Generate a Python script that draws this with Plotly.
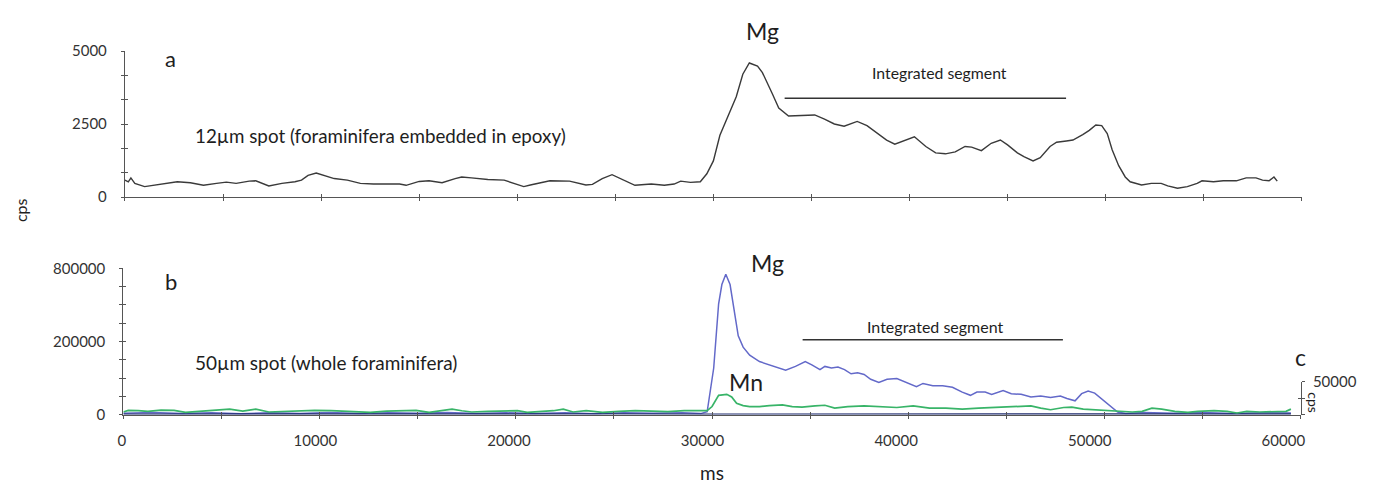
import numpy as np
import plotly.graph_objects as go

# ---------------- data ----------------
# Panel a: Mg trace, 12 µm spot (foraminifera embedded in epoxy)
t_a = [0, 170, 302, 502, 1002, 1502, 2002, 2668, 3335, 4002, 4668, 5168, 5668, 6335, 6668,
       7335, 8002, 8668, 9002, 9335, 9752, 10168, 10668, 11335, 12002, 12668, 13335, 14002,
       14335, 15002, 15502, 16168, 16835, 17168, 17668, 18502, 19335, 19835, 20335, 20668,
       21335, 21668, 22668, 23502, 23835, 24335, 24835, 25335, 26002, 26835, 27502, 28002,
       28335, 28835, 29335, 29668, 30002, 30335, 30668, 31168, 31502, 31835, 32252, 32502,
       33002, 33335, 33835, 34502, 35168, 35668, 36168, 36668, 37335, 37835, 38502, 38835,
       39252, 39835, 40252, 40835, 41335, 41835, 42335, 42835, 43168, 43668, 44168, 44635,
       45002, 45502, 45835, 46302, 46668, 47168, 47502, 48002, 48335, 48835, 49168, 49502,
       49802, 50085, 50335, 50668, 51002, 51252, 51835, 52335, 52835, 53168, 53668, 54168,
       54668, 54918, 55502, 56002, 56668, 57168, 57668, 58002, 58335, 58585, 58752]
mg_a = [582, 527, 659, 472, 362, 417, 450, 527, 494, 406, 472, 516, 472, 549, 560,
        384, 472, 527, 582, 747, 824, 747, 637, 582, 472, 450, 450, 450,
        406, 538, 560, 494, 637, 692, 659, 604, 582, 472, 362, 417,
        527, 560, 549, 417, 439, 637, 769, 615, 406, 450, 406, 450,
        549, 505, 527, 802, 1242, 2121, 2671, 3440, 4210, 4594, 4485, 4265,
        3550, 3055, 2781, 2803, 2814, 2671, 2506, 2429, 2594, 2451, 2121, 1956,
        1813, 1956, 2066, 1736, 1517, 1484, 1550, 1736, 1714, 1593, 1846, 1956,
        1791, 1517, 1385, 1242, 1352, 1736, 1879, 1923, 1956, 2143, 2286, 2473,
        2451, 2176, 1626, 1077, 692, 527, 417, 472, 472, 384, 307, 362,
        472, 560, 527, 560, 560, 659, 659, 582, 560, 692, 549]

# Panel b: Mg trace, 50 µm spot (whole foraminifera)
t_mg_b = [0, 1500, 3000, 4500, 6000, 7500, 9000, 10500, 12000, 13500, 15000, 16500, 18000,
          19500, 21000, 22500, 24000, 25500, 27000, 28500, 29417, 29750, 30084, 30334, 30500,
          30700, 30917, 31084, 31334, 31584, 31917, 32417, 32917, 33250, 33750, 34250, 34750,
          35084, 35500, 35750, 36084, 36417, 36750, 37084, 37417, 37750, 38084, 38500, 38917,
          39417, 39917, 40417, 40750, 41250, 41750, 42250, 42750, 43167, 43500, 43917, 44250,
          44834, 45250, 45750, 46250, 46750, 47250, 47750, 48084, 48500, 48834, 49167, 49500,
          49834, 50250, 50667, 51084, 52000, 53500, 55000, 56500, 58000, 59500]
mg_b = [60, 150, 40, 120, 30, 140, 50, 160, 40, 130, 60, 150, 50,
        120, 40, 140, 30, 130, 60, 110, 35, 300, 81200, 459800, 633600,
        737600, 633600, 433600, 231900, 170300, 132200, 105200, 92800, 86900, 73500, 86900, 105200,
        92800, 75700, 86900, 81200, 84600, 75700, 62300, 65300, 60400, 46700, 38600, 46700,
        48500, 38600, 29200, 36300, 31300, 31300, 27900, 18900, 13900, 18900, 18900, 15300,
        21700, 16400, 15300, 11700, 13000, 10900, 13000, 9700, 7100, 16400, 20600, 17300,
        9700, 3500, 250, 40, 150, 60, 170, 50, 140, 80]

# Panel b/c: Mn trace (right-hand cps scale)
t_mn_b = [0, 248, 748, 1248, 1915, 2582, 3165, 3915, 4582, 5415, 6082, 6748, 7415, 8082,
          8915, 9748, 10582, 11248, 11915, 12582, 13415, 14248, 14915, 15582, 16082, 16748,
          17248, 17748, 18582, 19415, 20082, 20582, 21248, 21917, 22417, 22917, 23584, 24417,
          25250, 26084, 26917, 27750, 28584, 29750, 30000, 30334, 30750, 31000, 31250, 31584,
          31917, 32417, 32917, 33584, 34084, 34584, 35250, 35750, 36250, 36917, 37750, 38584,
          39417, 40250, 41084, 41917, 42750, 43584, 44750, 45584, 46250, 46750, 47250, 47917,
          48334, 48917, 49584, 50250, 50750, 51417, 51917, 52417, 52917, 53584, 54250, 54750,
          55584, 56250, 56750, 57250, 57917, 58584, 59250, 59500]
mn_b = [3920, 6370, 5880, 4900, 6860, 6370, 3430, 4900, 6860, 8330, 5390, 8330, 3920, 4900,
        5390, 6370, 5880, 4900, 4900, 3430, 5390, 5390, 6370, 3430, 5880, 8330,
        5880, 3920, 4900, 5880, 5880, 3430, 4900, 5880, 8330, 3920, 5880, 3430,
        4900, 5880, 5390, 4410, 5880, 5880, 12250, 29400, 30880, 26960, 17160, 13720,
        12250, 12250, 13720, 14700, 12250, 11270, 13240, 14210, 9800, 12250, 13240, 12250,
        10780, 13240, 9800, 9800, 8330, 9800, 11270, 12250, 13240, 9800, 7350, 10780,
        11270, 8330, 7350, 6370, 4900, 3920, 4900, 9800, 8330, 4900, 3430, 4900,
        5880, 4900, 2450, 4900, 3920, 4900, 4900, 8330]

# Panel b: low background channel along the baseline
t_bg_b = [0, 5000, 10000, 15000, 20000, 25000, 29500, 52000, 55000, 58000, 59500]
bg_b = [5, 10, 0, 8, 3, 10, 5, 3, 10, 2, 8]

# Axis labels
ticks_a = [0, 2500, 5000]
ticks_b = [0, 200000, 800000]
ticks_mn = [50000]
x_labels = [0, 10000, 20000, 30000, 40000, 50000, 60000]

# Integrated segments (start ms, end ms, level in cps) and their caption anchors (ms, cps)
seg_a = (33635, 47985, 3384)
seg_b = (34615, 47880, 209800)
seg_a_label = (41535, 4265)
seg_b_label = (41365, 292300)

# ---------------- layout helpers ----------------
W, H = 1376, 490
FONT = "Lato"
INK = "#1e1e1e"
AXC = "#555555"


def fx(px):
    return px / W


def fy(py):
    return 1 - py / H


def sq(v):
    # panel b uses a square-root cps scale
    return np.sqrt(np.asarray(v, dtype=float))


fig = go.Figure()

fig.add_trace(go.Scatter(x=t_a, y=mg_a, mode="lines", xaxis="x", yaxis="y",
                         line=dict(color="#3a3a3a", width=1.4), name="Mg (12 µm)"))
fig.add_trace(go.Scatter(x=t_mn_b, y=mn_b, mode="lines", xaxis="x2", yaxis="y3",
                         line=dict(color="#38b468", width=1.7), name="Mn"))
fig.add_trace(go.Scatter(x=t_mg_b, y=sq(mg_b), mode="lines", xaxis="x2", yaxis="y2",
                         line=dict(color="#6369c9", width=1.5), name="Mg (50 µm)"))
fig.add_trace(go.Scatter(x=t_bg_b, y=sq(bg_b), mode="lines", xaxis="x2", yaxis="y2",
                         line=dict(color="#1d2a6e", width=1.6), name="background"))
# empty carriers for the labelled time axis and the inner tick overlays
for xa, ya in [("x3", "y2"), ("x4", "y4"), ("x5", "y5"), ("x2", "y6")]:
    fig.add_trace(go.Scatter(x=[], y=[], xaxis=xa, yaxis=ya, showlegend=False, hoverinfo="skip"))

tick_font = dict(family=FONT, size=15, color="#333333")

# y tick positions: panel a every 5000/6, panel b eight equal steps in sqrt space
ya_vals = [k * 5000 / 6 for k in range(7)]
ya_text = [str(int(round(v))) if any(abs(v - t) < 1 for t in ticks_a) else "" for v in ya_vals]
yb_max = float(sq(ticks_b[-1]))
yb_vals = [k * yb_max / 8 for k in range(9)]
yb_text = [""] * 9
for t in ticks_b:
    yb_text[int(round(float(sq(t)) / yb_max * 8))] = str(t)
x_ticks = list(range(0, 60001, 5000))
mn_ticks = [0, 25000] + ticks_mn

common_axis = dict(showgrid=False, zeroline=False, showline=True, linecolor=AXC, linewidth=1.3,
                   ticks="outside", ticklen=3, tickcolor=AXC, tickwidth=1.2, tickfont=tick_font)
inner_ticks = dict(showgrid=False, zeroline=False, showline=False, ticks="inside", ticklen=3,
                   tickcolor=AXC, tickwidth=1.2, showticklabels=False, tickmode="array")

dom_xa = [fx(123.3), fx(1322.7)]
dom_ya = [fy(194.3), fy(42.7)]
dom_xb = [fx(121.7), fx(1321.7)]
dom_yb = [fy(420), fy(268.3)]

fig.update_layout(
    width=W, height=H, autosize=False,
    margin=dict(l=0, r=0, t=0, b=0),
    paper_bgcolor="white", plot_bgcolor="rgba(0,0,0,0)",
    showlegend=False,
    font=dict(family=FONT, color=INK),
    xaxis=dict(common_axis, domain=dom_xa, range=[0, 60000], anchor="y",
               tickmode="array", tickvals=x_ticks, showticklabels=False),
    yaxis=dict(common_axis, domain=dom_ya, range=[0, 5000], anchor="x",
               tickmode="array", tickvals=ya_vals, ticktext=ya_text, ticklabelstandoff=11),
    xaxis2=dict(common_axis, domain=dom_xb, range=[0, 60000], anchor="y2",
                tickmode="array", tickvals=x_ticks, showticklabels=False),
    yaxis2=dict(common_axis, domain=dom_yb, range=[0, yb_max], anchor="x2",
                tickmode="array", tickvals=yb_vals, ticktext=yb_text, ticklabelstandoff=11),
    yaxis3=dict(common_axis, domain=[fy(420), fy(386)], range=[0, 50000], anchor="x2",
                side="right", tickmode="array", tickvals=mn_ticks,
                ticktext=["", ""] + [str(v) for v in ticks_mn], ticklabelstandoff=5),
    xaxis3=dict(domain=[fx(120), fx(1304)], range=[0, 60000], anchor="y2", showline=False,
                showgrid=False, zeroline=False, ticks="", tickmode="array", tickvals=x_labels,
                ticktext=[str(v) for v in x_labels], tickfont=tick_font, ticklabelstandoff=15),
    # inner halves of the crossing tick marks
    xaxis4=dict(inner_ticks, domain=dom_xa, range=[0, 60000], anchor="y4", tickvals=x_ticks),
    yaxis4=dict(inner_ticks, domain=dom_ya, range=[0, 5000], anchor="x4", tickvals=ya_vals),
    xaxis5=dict(inner_ticks, domain=dom_xb, range=[0, 60000], anchor="y5", tickvals=x_ticks),
    yaxis5=dict(inner_ticks, domain=dom_yb, range=[0, yb_max], anchor="x5", tickvals=yb_vals),
    yaxis6=dict(inner_ticks, domain=[fy(420), fy(386)], range=[0, 50000], anchor="x2",
                side="right", tickvals=mn_ticks),
)

# integrated segment bars
fig.add_shape(type="line", xref="x", yref="y", x0=seg_a[0], x1=seg_a[1], y0=seg_a[2], y1=seg_a[2],
              line=dict(color="#333333", width=1.5))
fig.add_shape(type="line", xref="x2", yref="y2", x0=seg_b[0], x1=seg_b[1],
              y0=float(sq(seg_b[2])), y1=float(sq(seg_b[2])), line=dict(color="#333333", width=1.5))


def note(text, x, y, size, xref="paper", yref="paper", xanchor="center", angle=0):
    fig.add_annotation(text=text, x=x, y=y, xref=xref, yref=yref, showarrow=False,
                       xanchor=xanchor, yanchor="middle", textangle=angle,
                       font=dict(family=FONT, size=size, color=INK))


# panel a labels
note("a", fx(170), fy(50), 22)
note("Mg", fx(773), fy(22), 23)
note("12µm spot (foraminifera embedded in epoxy)", fx(193), fy(130), 18.8, xanchor="left")
note("Integrated segment", seg_a_label[0], seg_a_label[1], 15.8, xref="x", yref="y")

# panel b labels
note("b", fx(170), fy(282), 22)
note("Mg", fx(778), fy(263), 23)
note("Mn", fx(756), fy(386), 23)
note("50µm spot (whole foraminifera)", fx(193), fy(366), 19, xanchor="left")
note("Integrated segment", seg_b_label[0], float(sq(seg_b_label[1])), 16, xref="x2", yref="y2")
note("c", fx(1321), fy(360), 23)
note("cps", fx(1335), fy(408), 14, angle=90)

# axis titles
note("cps", fx(17), fy(208), 16, angle=-90)
note("ms", fx(722), fy(480), 19)

fig.write_html("out.html", config={"responsive": False})
